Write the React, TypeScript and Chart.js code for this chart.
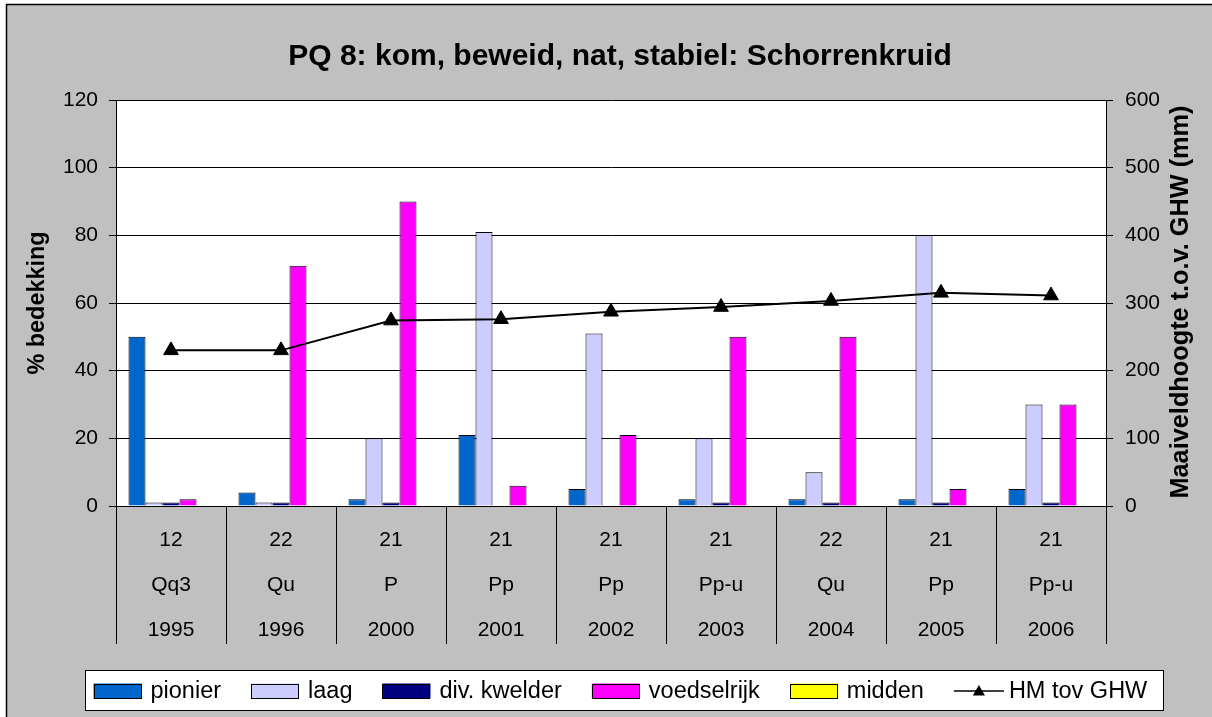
import React, { useEffect, useRef } from "react";
import { Chart, registerables } from "chart.js";

Chart.register(...registerables);

const W = 1212;
const H = 717;
const FONT = '"Liberation Sans", Arial, Helvetica, sans-serif';

const chartTitle = "PQ 8: kom, beweid, nat, stabiel: Schorrenkruid";
const leftAxisTitle = "% bedekking";
const rightAxisTitle = "Maaiveldhoogte t.o.v. GHW (mm)";

const plotCodes = ["12", "22", "21", "21", "21", "21", "22", "21", "21"];
const vegTypes = ["Qq3", "Qu", "P", "Pp", "Pp", "Pp-u", "Qu", "Pp", "Pp-u"];
const years = ["1995", "1996", "2000", "2001", "2002", "2003", "2004", "2005", "2006"];

const pionier = [50, 4, 2, 21, 5, 2, 2, 2, 5];
const laag = [1, 1, 20, 81, 51, 20, 10, 80, 30];
const divKwelder = [1, 1, 1, 0, 0, 1, 1, 1, 1];
const voedselrijk = [2, 71, 90, 6, 21, 50, 50, 5, 30];
const midden = [0, 0, 0, 0, 0, 0, 0, 0, 0];
const hmTovGhw = [230, 230, 274, 276, 287, 294, 303, 315, 311];

const leftAxis = { min: 0, max: 120, step: 20 };
const rightAxis = { min: 0, max: 600, step: 100 };

const barSeries = [
  { label: "pionier", data: pionier, color: "#0066CC" },
  { label: "laag", data: laag, color: "#CCCCFF" },
  { label: "div. kwelder", data: divKwelder, color: "#000080" },
  { label: "voedselrijk", data: voedselrijk, color: "#FF00FF" },
  { label: "midden", data: midden, color: "#FFFF00" },
];
const lineSeries = { label: "HM tov GHW", data: hmTovGhw, color: "#000000" };

function drawTriangle(ctx: CanvasRenderingContext2D, x: number, y: number, r: number) {
  ctx.beginPath();
  ctx.moveTo(x, y - r);
  ctx.lineTo(x + r * 0.866, y + r * 0.5);
  ctx.lineTo(x - r * 0.866, y + r * 0.5);
  ctx.closePath();
  ctx.fill();
}

const decorPlugin = {
  id: "decor",
  beforeDraw(chart: any) {
    const { ctx, chartArea: a } = chart;
    ctx.save();
    ctx.fillStyle = "#ffffff";
    ctx.fillRect(0, 0, W, H);
    ctx.fillStyle = "#C0C0C0";
    ctx.fillRect(6, 4, W - 6, H - 4);
    ctx.strokeStyle = "#000";
    ctx.lineWidth = 1.5;
    ctx.beginPath();
    ctx.moveTo(6.5, H);
    ctx.lineTo(6.5, 4.5);
    ctx.lineTo(W, 4.5);
    ctx.stroke();
    ctx.fillStyle = "#ffffff";
    ctx.fillRect(a.left, a.top, a.right - a.left, a.bottom - a.top);
    ctx.restore();
  },
  afterDraw(chart: any) {
    const { ctx, chartArea: a } = chart;
    const midY = (a.top + a.bottom) / 2;
    ctx.save();
    ctx.fillStyle = "#000";
    // Title
    ctx.font = `bold 30px ${FONT}`;
    ctx.textAlign = "center";
    ctx.textBaseline = "alphabetic";
    ctx.fillText(chartTitle, 620, 65);
    // Axis titles
    ctx.font = `bold 23.4px ${FONT}`;
    ctx.save();
    ctx.translate(44, midY);
    ctx.rotate(-Math.PI / 2);
    ctx.fillText(leftAxisTitle, 0, 0);
    ctx.restore();
    ctx.font = `bold 25.3px ${FONT}`;
    ctx.save();
    ctx.translate(1188, midY - 1);
    ctx.rotate(-Math.PI / 2);
    ctx.fillText(rightAxisTitle, 0, 0);
    ctx.restore();

    // Legend
    const lx = 85, ly = 670, lw = 1078, lh = 40;
    ctx.fillStyle = "#ffffff";
    ctx.fillRect(lx, ly, lw, lh);
    ctx.strokeStyle = "#000";
    ctx.lineWidth = 1;
    ctx.strokeRect(lx + 0.5, ly + 0.5, lw, lh);
    ctx.font = `23.5px ${FONT}`;
    ctx.textAlign = "left";
    ctx.textBaseline = "middle";
    const cy = 691;
    let x = 93.5;
    const datasets = chart.data.datasets;
    const ordered = [...datasets.filter((d: any) => d.type !== "line"), ...datasets.filter((d: any) => d.type === "line")];
    for (const ds of ordered) {
      if (ds.type === "line") {
        ctx.strokeStyle = "#000";
        ctx.lineWidth = 1.5;
        ctx.beginPath();
        ctx.moveTo(x, cy);
        ctx.lineTo(x + 50, cy);
        ctx.stroke();
        ctx.fillStyle = "#000";
        drawTriangle(ctx, x + 25, cy + 1, 7);
        x += 55;
      } else {
        ctx.fillStyle = ds.backgroundColor;
        ctx.fillRect(x, cy - 7.5, 48, 15);
        ctx.strokeStyle = "#000";
        ctx.lineWidth = 1;
        ctx.strokeRect(Math.round(x) + 0.5, Math.round(cy - 7.5) + 0.5, 47, 14);
        x += 57;
      }
      ctx.fillStyle = "#000";
      ctx.fillText(ds.label, x, cy + 1);
      x += ctx.measureText(ds.label).width + 30;
    }
    ctx.restore();
  },
};

export default function App() {
  const canvasRef = useRef<HTMLCanvasElement | null>(null);

  useEffect(() => {
    document.body.style.margin = "0";
    const canvas = canvasRef.current;
    if (!canvas) return;
    const labels = years.map((y, i) => [plotCodes[i], vegTypes[i], y]);
    const datasets: any[] = [
      {
        type: "line",
        label: lineSeries.label,
        data: lineSeries.data,
        yAxisID: "y1",
        borderColor: lineSeries.color,
        backgroundColor: lineSeries.color,
        borderWidth: 2,
        pointStyle: "triangle",
        pointRadius: 8.5,
        pointBorderWidth: 1,
        pointBackgroundColor: "#000",
        pointBorderColor: "#000",
        tension: 0,
        order: 0,
      },
      ...barSeries.map((s) => ({
        type: "bar",
        label: s.label,
        data: s.data,
        yAxisID: "y",
        backgroundColor: s.color,
        borderColor: "#000",
        borderWidth: 1,
        borderSkipped: "start",
        categoryPercentage: 0.773,
        barPercentage: 1,
        order: 1,
      })),
    ];

    const chart = new Chart(canvas, {
      type: "bar",
      data: { labels, datasets },
      options: {
        responsive: false,
        animation: false,
        devicePixelRatio: 1,
        layout: { padding: { left: 0, right: 0, top: 100, bottom: 0 } },
        plugins: {
          legend: { display: false },
          tooltip: { enabled: false },
          title: { display: false },
        },
        scales: {
          x: {
            type: "category",
            offset: true,
            grid: {
              display: true,
              drawOnChartArea: false,
              drawTicks: true,
              tickLength: 138,
              color: "#000",
              lineWidth: 1,
              offset: true,
            },
            border: { display: true, color: "#000", width: 1 },
            ticks: {
              color: "#000",
              font: { family: FONT, size: 21, lineHeight: 45 / 21 },
              padding: -126,
              maxRotation: 0,
              autoSkip: false,
            },
            afterFit: (s: any) => {
              s.height = H - 506;
            },
          },
          y: {
            type: "linear",
            position: "left",
            min: leftAxis.min,
            max: leftAxis.max,
            grid: { color: "#000", lineWidth: 1, tickLength: 7, drawTicks: true },
            border: { display: true, color: "#000", width: 1 },
            ticks: {
              stepSize: leftAxis.step,
              color: "#000",
              font: { family: FONT, size: 21 },
              padding: 11,
            },
            afterFit: (s: any) => {
              s.width = 116;
            },
          },
          y1: {
            type: "linear",
            position: "right",
            min: rightAxis.min,
            max: rightAxis.max,
            grid: { drawOnChartArea: false, color: "#000", tickLength: 7, drawTicks: true },
            border: { display: true, color: "#000", width: 1 },
            ticks: {
              stepSize: rightAxis.step,
              color: "#000",
              font: { family: FONT, size: 21 },
              padding: 12,
            },
            afterFit: (s: any) => {
              s.width = W - 1106;
            },
          },
        },
      },
      plugins: [decorPlugin],
    });
    return () => chart.destroy();
  }, []);

  return (
    <div style={{ width: W, height: H }}>
      <canvas ref={canvasRef} width={W} height={H} style={{ display: "block", width: W, height: H }} />
    </div>
  );
}
